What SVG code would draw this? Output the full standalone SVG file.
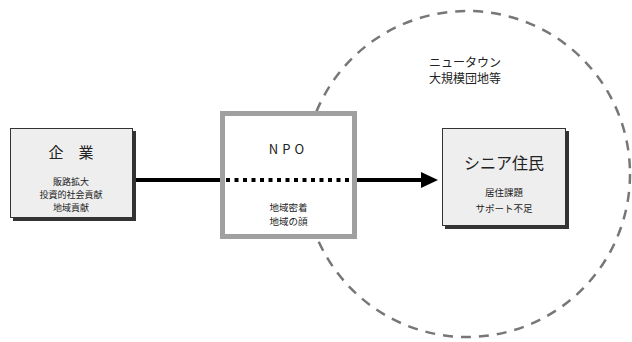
<svg xmlns="http://www.w3.org/2000/svg" width="632" height="342" viewBox="0 0 632 342">
<defs>
<marker id="arrow" markerWidth="17" markerHeight="16" refX="1" refY="8" orient="auto" markerUnits="userSpaceOnUse">
<path d="M0,0 L17,8 L0,16 Z" fill="#000"/>
</marker>
<style>
text{font-family:"Noto Sans CJK JP","Noto Sans",sans-serif;fill:#222;text-anchor:middle}
.shadow{fill:#333}
.box{fill:#eeeeee;stroke:#333;stroke-width:1}
.sm{font-size:9.5px}
.xs{font-size:9px}
</style>
</defs>
<circle id="area" cx="467" cy="174" r="163" fill="none" stroke="#777" stroke-width="2.5" stroke-dasharray="10,8"/>
<g id="connectors">
<line x1="135" y1="180" x2="222" y2="180" stroke="#000" stroke-width="4"/>
<line x1="357" y1="180" x2="422" y2="180" stroke="#000" stroke-width="4" marker-end="url(#arrow)"/>
</g>
<g id="kigyo">
<rect class="shadow" x="13" y="131" width="123" height="90"/>
<rect class="box" x="10.5" y="128.5" width="122" height="89"/>
<text x="71" y="158" font-size="15">企　業</text>
<text class="xs" x="71" y="185">販路拡大</text>
<text class="xs" x="71" y="198">投資的社会貢献</text>
<text class="xs" x="71" y="211">地域貢献</text>
</g>
<g id="npo">
<rect x="222.5" y="113.5" width="132" height="123" fill="#fff" stroke="#a0a0a0" stroke-width="5"/>
<line x1="226" y1="180" x2="352" y2="180" stroke="#000" stroke-width="4" stroke-dasharray="4,4.5"/>
<text x="288.5" y="154" font-size="13" letter-spacing="4">NPO</text>
<text class="sm" x="288.5" y="211">地域密着</text>
<text class="sm" x="288.5" y="225">地域の顔</text>
</g>
<g id="newtown">
<text x="465" y="67" font-size="12">ニュータウン</text>
<text x="465" y="83" font-size="12">大規模団地等</text>
</g>
<g id="senior">
<rect class="shadow" x="445" y="131" width="124" height="98"/>
<rect class="box" x="442.5" y="128.5" width="123" height="97"/>
<text x="504" y="169" font-size="16">シニア住民</text>
<text class="sm" x="504" y="196">居住課題</text>
<text class="sm" x="504" y="212">サポート不足</text>
</g>
</svg>
